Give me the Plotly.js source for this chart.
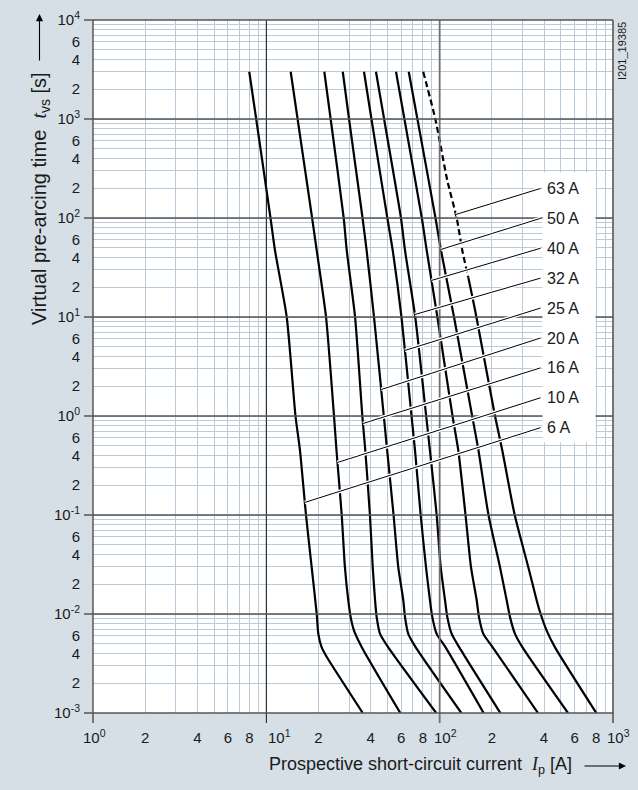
<!DOCTYPE html>
<html><head><meta charset="utf-8">
<script src="https://cdn.plot.ly/plotly-3.0.1.min.js"></script>
<style>html,body{margin:0;padding:0;background:#d6dfe6;}#chart{width:638px;height:790px;}</style>
</head><body><div id="chart"></div>
<script>
// ---------- data (current in A, time in s) ----------
const ratings = ['6 A','10 A','16 A','20 A','25 A','32 A','40 A','50 A','63 A'];

const t6  = [3000, 1000, 100, 47, 10, 1, 0.448, 0.1, 0.0297, 0.01, 0.0063, 0.0046, 0.0037, 0.001];
const i6  = [7.97, 8.74, 10.57, 11.22, 13.11, 14.73, 15.64, 16.94, 18.26, 19.53, 19.95, 20.86, 22.28, 36.0];

const t10 = [3000, 1000, 100, 47, 10, 1, 0.448, 0.1, 0.0297, 0.0137, 0.0093, 0.0068, 0.0046, 0.001];
const i10 = [13.82, 15.15, 18.37, 19.53, 22.1, 24.57, 25.4, 27.22, 28.4, 29.7, 30.65, 32.05, 35.6, 59.3];

const t16 = [3000, 1000, 100, 47, 10, 1, 0.448, 0.1, 0.0297, 0.0137, 0.0093, 0.0063, 0.0046, 0.001];
const i16 = [21.6, 23.5, 27.95, 29.1, 32.5, 35.8, 37.24, 39.6, 41.1, 42.4, 43.3, 45.3, 50.5, 95.5];

const t20 = [3000, 1000, 100, 47, 10, 1, 0.448, 0.1, 0.0297, 0.0137, 0.0093, 0.0063, 0.0046, 0.001];
const i20 = [27.6, 30.0, 35.9, 37.9, 41.8, 47.6, 49.8, 54.2, 57.7, 61.7, 63.1, 65.9, 72.8, 133.4];

const t25 = [3000, 1000, 100, 47, 10, 1, 0.448, 0.1, 0.0297, 0.0137, 0.0093, 0.0063, 0.0046, 0.001];
const i25 = [36.6, 40.4, 49.9, 53.6, 60.2, 68.8, 72.1, 77.7, 83.4, 87.9, 90.7, 96.1, 108.2, 179.4];

const t32 = [3000, 1000, 100, 47, 10, 1, 0.448, 0.1, 0.0297, 0.0137, 0.0093, 0.0063, 0.0046, 0.001];
const i32 = [42.9, 47.8, 59.8, 63.1, 72.3, 83.6, 87.9, 96.1, 101.4, 107.4, 110.7, 117.3, 129.8, 223.9];

const t40 = [3000, 1000, 100, 47, 10, 1, 0.448, 0.1, 0.0297, 0.0137, 0.0093, 0.0063, 0.0046, 0.001];
const i40 = [56.0, 62.6, 78.9, 84.2, 97.0, 118.6, 128.1, 141, 151.6, 163.6, 168.6, 178.6, 202.3, 369.3];

const t50 = [3000, 1000, 100, 47, 10, 1, 0.448, 0.1, 0.0297, 0.0137, 0.0093, 0.0063, 0.0046, 0.001];
const i50 = [66.3, 74.4, 94.6, 101.8, 121.0, 154, 167.5, 191.3, 222.9, 243.7, 254.6, 272.1, 300.6, 550.1];

// 63 A: dashed upper part, solid lower part
const t63dash = [3000, 1000, 239, 100, 47, 25];
const i63dash = [80.4, 94.4, 110.7, 125.4, 135.1, 146.3];
const t63 = [25, 17.3, 10, 1, 0.448, 0.1, 0.0297, 0.0137, 0.01, 0.0068, 0.0046, 0.001];
const i63 = [146.3, 153.0, 162.9, 208.6, 229.8, 271, 324.7, 362.9, 382.5, 414.3, 462.9, 801.4];

// time at which each label's leader line touches its curve
const labelT = [0.134, 0.339, 0.84, 1.85, 4.59, 10.6, 23.4, 48.1, 108.5];

// ticks
const xDecades = [1, 10, 100, 1000];
const xDecadeText = ['10<sup>0</sup>', '10<sup>1</sup>', '10<sup>2</sup>', '10<sup>3</sup>'];
const xLabeledDigits = [2, 4, 6, 8];
const yDecades = [0.001, 0.01, 0.1, 1, 10, 100, 1000, 10000];
const yDecadeText = ['10<sup>-3</sup>', '10<sup>-2</sup>', '10<sup>-1</sup>', '10<sup>0</sup>', '10<sup>1</sup>', '10<sup>2</sup>', '10<sup>3</sup>', '10<sup>4</sup>'];
const yLabeledDigits = [2, 4, 6];
const digits = [2, 3, 4, 5, 6, 7, 8, 9];

// ---------- layout geometry ----------
const W0 = 638, H0 = 790;
const L = 93, T = 20, W = 520, H = 693;
const FONT = 'Liberation Sans, Arial, sans-serif';
const pxX = px => (px - L) / W;
const pxY = py => (T + H - py) / H;

// x decade labels are placed as annotations (left edges as in the reference)
const xDecadeLabelLeft = [82, 266.5, 433, 605.5];

function buildTicks(decades, decText, labeled, decadeInTicks) {
  const vals = [], text = [];
  decades.forEach((d, k) => {
    vals.push(d); text.push(decadeInTicks ? decText[k] : '');
    if (k < decades.length - 1) {
      digits.forEach(g => { vals.push(g * d); text.push(labeled.includes(g) ? String(g) : ''); });
    }
  });
  return {vals, text};
}
const xt = buildTicks(xDecades, xDecadeText, xLabeledDigits, false);
const yt = buildTicks(yDecades, yDecadeText, yLabeledDigits, true);

// ---------- traces ----------
const curveT = [t6, t10, t16, t20, t25, t32, t40, t50];
const curveI = [i6, i10, i16, i20, i25, i32, i40, i50];
const lineStyle = {color: '#000', width: 2.2, shape: 'spline', smoothing: 0.6};
const traces = [];
curveT.forEach((tt, k) => traces.push({type: 'scatter', mode: 'lines', x: curveI[k], y: tt, line: lineStyle, hoverinfo: 'skip', showlegend: false}));
traces.push({type: 'scatter', mode: 'lines', x: i63dash, y: t63dash, line: Object.assign({}, lineStyle, {dash: '6px,3.5px'}), hoverinfo: 'skip', showlegend: false});
traces.push({type: 'scatter', mode: 'lines', x: i63, y: t63, line: lineStyle, hoverinfo: 'skip', showlegend: false});

// ---------- label leader lines ----------
const allT = curveT.concat([t63dash.concat(t63.slice(1))]);
const allI = curveI.concat([i63dash.concat(i63.slice(1))]);
function logIat(ts, is, t) {
  const lt = Math.log10(t);
  for (let k = 0; k < ts.length - 1; k++) {
    const a = Math.log10(ts[k]), b = Math.log10(ts[k + 1]);
    if (lt <= a && lt >= b) {
      const f = (lt - a) / (b - a);
      return Math.log10(is[k]) + f * (Math.log10(is[k + 1]) - Math.log10(is[k]));
    }
  }
  return Math.log10(is[0]);
}

const annotations = [];
const labelTop = 188, labelStep = 29.9, labelLeft = 542;
ratings.forEach((r, idx) => {
  const py = labelTop + (ratings.length - 1 - idx) * labelStep;
  const hx = logIat(allT[idx], allI[idx], labelT[idx]);
  const hy = Math.log10(labelT[idx]);
  const tx = 3 * (labelLeft - L) / W;
  const ty = 4 - 7 * (py - T) / H;
  [['#ffffff', 3.6], ['#000000', 1]].forEach(([c, w]) => annotations.push({
    xref: 'x', yref: 'y', axref: 'x', ayref: 'y', x: hx, y: hy, ax: tx, ay: ty,
    text: '', showarrow: true, arrowhead: 0, arrowwidth: w, arrowcolor: c, standoff: 0, startstandoff: 0
  }));
});
ratings.forEach((r, idx) => {
  const py = labelTop + (ratings.length - 1 - idx) * labelStep;
  annotations.push({
    xref: 'paper', yref: 'paper', x: pxX(labelLeft), y: pxY(py), xanchor: 'left', yanchor: 'middle',
    text: r, showarrow: false, bgcolor: '#ffffff', width: 44, height: 22, borderpad: 4, align: 'left',
    font: {family: FONT, size: 16, color: '#1a1a1a'}
  });
});

// x decade tick labels
xDecadeText.forEach((s, k) => annotations.push({
  xref: 'paper', yref: 'paper', x: pxX(xDecadeLabelLeft[k]), y: pxY(726), xanchor: 'left', yanchor: 'top',
  text: s, showarrow: false, font: {family: FONT, size: 15, color: '#1a1a1a'}, borderpad: 0
}));

// axis titles and arrows
const serifI = s => '<i><span style="font-family:Liberation Serif">' + s + '</span></i>';
annotations.push({
  xref: 'paper', yref: 'paper', x: pxX(41), y: pxY(199), xanchor: 'center', yanchor: 'middle', textangle: -90,
  text: 'Virtual pre-arcing time  ' + serifI('t') + '<sub>vs</sub> [s]', showarrow: false,
  font: {family: FONT, size: 20, color: '#1a1a1a'}
});
annotations.push({
  xref: 'paper', yref: 'paper', x: pxX(574), y: pxY(766), xanchor: 'right', yanchor: 'middle',
  text: 'Prospective short-circuit current  ' + serifI('I') + '<sub>p</sub> [A]', showarrow: false,
  font: {family: FONT, size: 18, color: '#1a1a1a'}
});
annotations.push({
  xref: 'paper', yref: 'paper', x: pxX(39.5), y: pxY(14), text: '', showarrow: true,
  ax: 0, ay: 48, arrowhead: 2, arrowsize: 1.3, arrowwidth: 1.1, arrowcolor: '#000', standoff: 0
});
annotations.push({
  xref: 'paper', yref: 'paper', x: pxX(626), y: pxY(766), text: '', showarrow: true,
  ax: -43, ay: 0, arrowhead: 2, arrowsize: 1.3, arrowwidth: 1.1, arrowcolor: '#000', standoff: 0
});
annotations.push({
  xref: 'paper', yref: 'paper', x: pxX(622), y: pxY(51), xanchor: 'center', yanchor: 'middle', textangle: -90,
  text: 'I201_19385', showarrow: false, font: {family: FONT, size: 11, color: '#1a1a1a'}
});

// ---------- decade lines, borders, outside decade ticks (paper coordinates) ----------
const shapes = [];
const tickX = 10 / H, tickY = 9 / W;
const xDecadeStyle = [['#333333', 1.2], ['#111111', 1], ['#707070', 1.8], ['#555555', 1.6]];
xDecadeStyle.forEach(([c, w], k) => shapes.push({
  type: 'line', xref: 'paper', yref: 'paper', x0: k / 3, x1: k / 3, y0: -tickX, y1: 1, line: {color: c, width: w}
}));
for (let k = 0; k <= 7; k++) {
  shapes.push({
    type: 'line', xref: 'paper', yref: 'paper', x0: -tickY, x1: 1, y0: k / 7, y1: k / 7,
    line: {color: '#555555', width: (k === 0 || k === 7) ? 1.5 : 1.4}
  });
}

const axisCommon = {
  type: 'log', tickmode: 'array', ticks: 'outside', tickcolor: 'rgba(0,0,0,0)', tickangle: 0,
  showgrid: true, gridcolor: '#bccad7', gridwidth: 1, zeroline: false, showline: false,
  tickfont: {family: FONT, size: 15, color: '#1a1a1a'}, fixedrange: true
};
const layout = {
  width: W0, height: H0,
  margin: {l: L, r: W0 - L - W, t: T, b: H0 - T - H, pad: 0},
  paper_bgcolor: '#d6dfe6', plot_bgcolor: '#ffffff',
  font: {family: FONT, color: '#1a1a1a'},
  showlegend: false,
  xaxis: Object.assign({}, axisCommon, {range: [0, 3], tickvals: xt.vals, ticktext: xt.text, ticklen: 11}),
  yaxis: Object.assign({}, axisCommon, {range: [-3, 4], tickvals: yt.vals, ticktext: yt.text, ticklen: 9}),
  shapes: shapes,
  annotations: annotations
};
Plotly.newPlot('chart', traces, layout, {staticPlot: true, displayModeBar: false});
</script></body></html>
